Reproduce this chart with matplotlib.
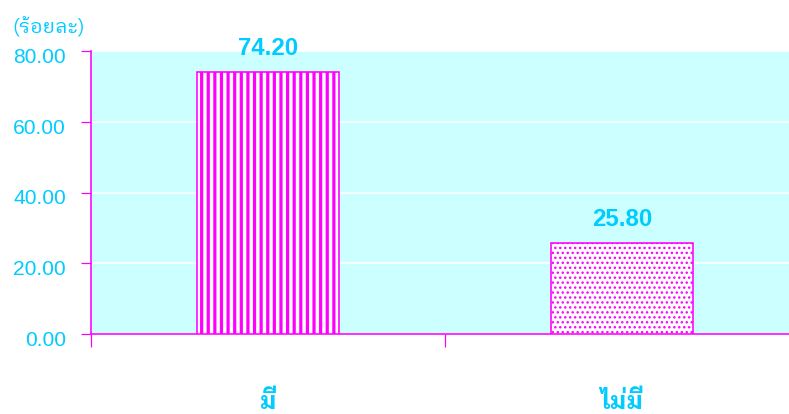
import matplotlib
matplotlib.use("Agg")
import matplotlib.pyplot as plt
from matplotlib.transforms import ScaledTranslation

categories = ["มี", "ไม่มี"]
values = [74.20, 25.80]
value_labels = ["74.20", "25.80"]
y_ticks = [0, 20, 40, 60, 80]
y_tick_labels = ["0.00", "20.00", "40.00", "60.00", "80.00"]
unit_label = "(ร้อยละ)"

CYAN_TEXT = "#00CCFF"
MAGENTA = "#FF00FF"
PANEL = "#CCFFFF"

W, H = 789, 414
DPI = 119
P = 72 / DPI  # points per pixel

LATIN = ["Liberation Sans", "DejaVu Sans"]
THAI = ["IBM Plex Sans Thai Looped", "Noto Sans Thai", "DejaVu Sans"]
plt.rcParams["font.family"] = LATIN + THAI

fig = plt.figure(figsize=(W / DPI, H / DPI), dpi=DPI)
ax = fig.add_axes([91 / W, 1 - 334 / H, (799 - 91) / W, (334 - 51) / H])
ax.set_facecolor(PANEL)

hatches = ["|||", "...."]
hatch_widths = [3.2, 1.5]
for i, (v, h, hw) in enumerate(zip(values, hatches, hatch_widths)):
    plt.rcParams["hatch.linewidth"] = hw * P
    plt.rcParams["hatch.color"] = MAGENTA
    bar = ax.bar(i, v, width=0.4, color="white", edgecolor=MAGENTA,
                 hatch=h, linewidth=1.6 * P, zorder=3)[0]
    if hasattr(bar, "set_hatch_linewidth"):
        bar.set_hatch_linewidth(hw * P)
    ax.annotate(value_labels[i], (i, v), xytext=(0, 16.5 * P),
                textcoords="offset points", ha="center", va="baseline",
                fontsize=24 * P, fontweight="bold", color=CYAN_TEXT,
                family=LATIN)

ax.set_xlim(-0.5, 1.5)
ax.set_ylim(0, 80)
ax.set_yticks(y_ticks)
ax.set_yticklabels(y_tick_labels, family=LATIN)
ax.yaxis.grid(True, color="white", linewidth=1.6 * P, zorder=1)
ax.set_axisbelow(True)

ax.set_xticks([-0.5, 0.5, 1.5])
ax.set_xticklabels([])
ax.tick_params(axis="x", which="major", length=13 * P, width=1.2 * P,
               color=MAGENTA, direction="out")
ax.tick_params(axis="y", length=10 * P, width=1.2 * P, color=MAGENTA,
               direction="out", labelsize=21 * P, labelcolor=CYAN_TEXT,
               pad=15 * P)
shift = ScaledTranslation(0, -4.5 * P / 72, fig.dpi_scale_trans)
for lab in ax.get_yticklabels():
    lab.set_transform(lab.get_transform() + shift)

# category names sit well below the axis
for i, name in enumerate(categories):
    ax.annotate(name, (i, 5), xycoords=("data", "figure pixels"),
                ha="center", va="baseline", fontsize=24 * P,
                fontweight="bold", color=CYAN_TEXT, family=THAI,
                annotation_clip=False)

for side in ("top", "right"):
    ax.spines[side].set_visible(False)
for side in ("left", "bottom"):
    ax.spines[side].set_color(MAGENTA)
    ax.spines[side].set_linewidth(1.6 * P)

fig.text(12 / W, 1 - 33 / H, unit_label, ha="left", va="baseline",
         fontsize=20 * P, color=CYAN_TEXT, family=THAI)

fig.savefig("out.png", dpi=DPI)
